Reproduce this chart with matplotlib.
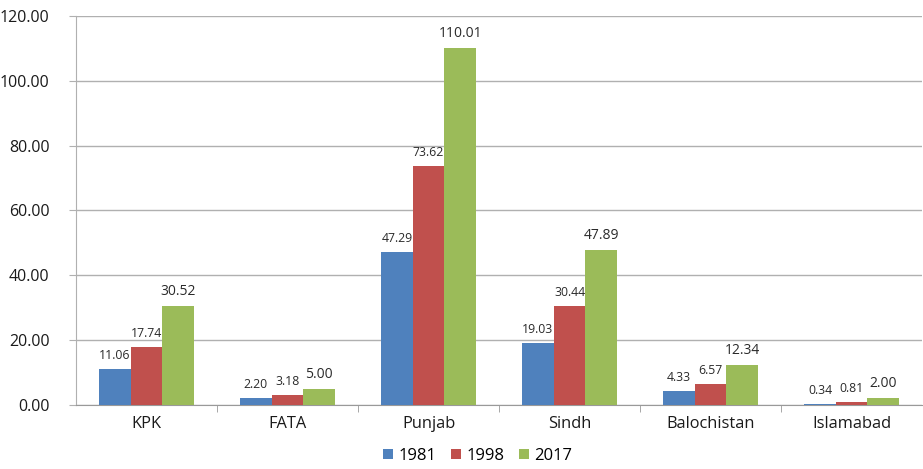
import numpy as np
import matplotlib.pyplot as plt

plt.rcParams['font.family'] = ['Open Sans', 'DejaVu Sans']

# Population (millions) by province and census year
regions = ['KPK', 'FATA', 'Punjab', 'Sindh', 'Balochistan', 'Islamabad']
pop_1981 = [11.06, 2.20, 47.29, 19.03, 4.33, 0.34]
pop_1998 = [17.74, 3.18, 73.62, 30.44, 6.57, 0.81]
pop_2017 = [30.52, 5.00, 110.01, 47.89, 12.34, 2.00]

series = [
    ('1981', pop_1981, '#4F81BD', 8.8),
    ('1998', pop_1998, '#C0504D', 8.8),
    ('2017', pop_2017, '#9BBB59', 10),
]

fig = plt.figure(figsize=(9.23, 4.69), dpi=100)
ax = fig.add_axes([0.0823, 0.1365, 0.9167, 0.8295])

x = np.arange(len(regions))
w = 0.224
for i, (name, vals, col, fs) in enumerate(series):
    pos = x + (i - 1) * w
    bars = ax.bar(pos, vals, w, color=col, label=name, zorder=3)
    for b, v in zip(bars, vals):
        ax.text(b.get_x() + b.get_width() / 2, v + 2.2, f'{v:.2f}',
                ha='center', va='bottom', fontsize=fs, color='#2a2a2a')

ax.set_xlim(-0.5, len(regions) - 0.5)
ax.set_ylim(0, 120)
ax.set_yticks(np.arange(0, 121, 20))
ax.set_yticklabels([f'{v:.2f}' for v in np.arange(0, 121, 20)])
ax.set_xticks(x)
ax.set_xticklabels(regions)
ax.set_xticks(np.arange(0.5, len(regions) - 0.5, 1), minor=True)

ax.grid(axis='y', color='#b0b0b0', linewidth=1, zorder=0)
for s in ['top', 'right']:
    ax.spines[s].set_visible(False)
ax.spines['left'].set_color('#b0b0b0')
ax.spines['bottom'].set_color('#999999')
ax.tick_params(axis='y', length=5, color='#b0b0b0', labelsize=11.5, labelcolor='#1a1a1a', pad=14)
ax.tick_params(axis='x', which='major', length=0, labelsize=11.8, labelcolor='#1a1a1a', pad=8)
ax.tick_params(axis='x', which='minor', length=5, color='#999999')

ax.legend(loc='lower center', bbox_to_anchor=(0.475, -0.19), ncol=3, frameon=False,
          fontsize=12, handlelength=0.6, handleheight=0.6, handletextpad=0.3,
          columnspacing=0.9)

fig.savefig('out.png', dpi=100)
